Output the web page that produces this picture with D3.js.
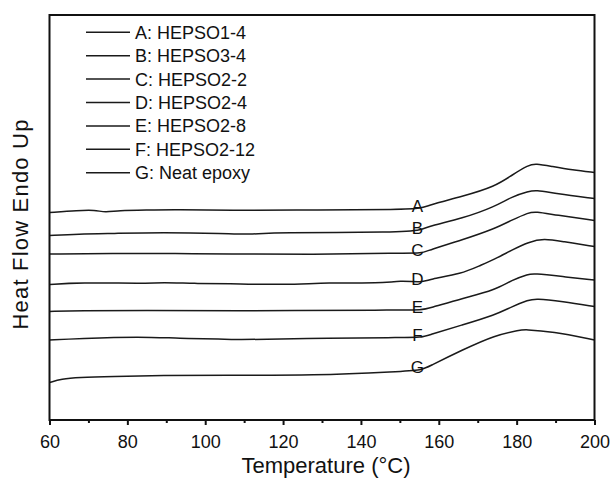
<!DOCTYPE html>
<html>
<head>
<meta charset="utf-8">
<script src="https://cdn.jsdelivr.net/npm/d3@7"></script>
<style>
  body { margin: 0; background: #fff; }
  text { font-family: "Liberation Sans", Arial, sans-serif; fill: #111; }
</style>
</head>
<body>
<script>
//Width and height
var w = 612;
var h = 478;
var margin = {top: 15, right: 17.5, bottom: 58, left: 49.5};

//DSC traces (temperature in C, heat flow in arbitrary units, curves offset)
var keys = ["A", "B", "C", "D", "E", "F", "G"];
var names = ["HEPSO1-4", "HEPSO3-4", "HEPSO2-2", "HEPSO2-4", "HEPSO2-8", "HEPSO2-12", "Neat epoxy"];

var curveA = [[60,4.15],[67.4,4.19],[71.7,4.20],[74.3,4.15],[77.7,4.19],[84.6,4.20],[93.1,4.21],[105.1,4.19],
              [129.6,4.20],[150.1,4.21],[155.7,4.23],[157.4,4.30],[166,4.47],[174.5,4.67],[178.8,4.90],
              [183.1,5.10],[184.8,5.13],[189.1,5.07],[194.3,5.00],[200,4.95]];
var curveB = [[60,3.69],[67.4,3.72],[76,3.73],[88.8,3.75],[105.1,3.73],[111.6,3.71],[117.5,3.75],[150.1,3.75],
              [155.7,3.80],[157.4,3.88],[166,4.03],[174.5,4.27],[178.8,4.47],[183.1,4.57],[184.8,4.60],
              [190,4.53],[200,4.43]];
var curveC = [[60,3.32],[76,3.33],[93.1,3.33],[105.1,3.32],[127.8,3.31],[150.1,3.34],[155.7,3.33],[157.4,3.40],
              [166,3.60],[174.5,3.83],[178.8,4.00],[183.1,4.15],[184.8,4.17],[190,4.10],[200,3.99]];
var curveD = [[60,2.71],[67.4,2.75],[84.6,2.73],[88.8,2.75],[97.4,2.73],[105.1,2.73],[121,2.70],[131.3,2.75],
              [145,2.73],[150.1,2.79],[155.7,2.75],[157.4,2.81],[166,2.93],[170.3,3.08],[174.5,3.22],
              [178.8,3.40],[183.1,3.56],[187,3.63],[191.7,3.57],[200,3.47]];
var curveE = [[60,2.17],[67.4,2.19],[84.6,2.19],[105.1,2.18],[150.1,2.20],[155.7,2.20],[157.4,2.23],[166,2.43],
              [174.5,2.60],[178.8,2.80],[183.1,2.92],[184.3,2.93],[191.7,2.87],[200,2.80]];
var curveF = [[60,1.60],[67.4,1.63],[83.7,1.67],[93.1,1.63],[105.1,1.62],[106.4,1.60],[125.2,1.63],[150.1,1.65],
              [155.7,1.65],[157.4,1.70],[166,1.90],[174.5,2.10],[178.8,2.27],[183.1,2.40],[184.8,2.43],
              [191.7,2.37],[200,2.27]];
var curveG = [[60,0.75],[63.1,0.82],[67.4,0.85],[76,0.87],[88.8,0.89],[105.1,0.90],[127.8,0.89],[150.1,0.97],
              [155.7,1.00],[157.4,1.07],[166,1.40],[174.5,1.70],[181,1.80],[182,1.81],[189.1,1.77],[200,1.60]];
var curves = [curveA, curveB, curveC, curveD, curveE, curveF, curveG];

var xTicks = [60, 80, 100, 120, 140, 160, 180, 200];
var xMinor = [70, 90, 110, 130, 150, 170, 190];
var labelTemp = 154.5;

//Scales
var x = d3.scaleLinear().domain([60, 200]).range([margin.left, w - margin.right]);
var y = d3.scaleLinear().domain([0, 8.1]).range([h - margin.bottom, margin.top]);

//Create SVG element
var svg = d3.select("body").append("svg")
            .attr("width", w)
            .attr("height", h);

var line = d3.line()
             .x(function(d) { return x(d[0]); })
             .y(function(d) { return y(d[1]); })
             .curve(d3.curveBasis);

svg.selectAll("path.trace")
   .data(curves)
   .enter()
   .append("path")
   .attr("class", "trace")
   .attr("d", line)
   .attr("fill", "none")
   .attr("stroke", "#1a1a1a")
   .attr("stroke-width", 1.5);

//Letters sitting on each trace
function valueAt(c, t) {
    for (var i = 1; i < c.length; i++) {
        if (c[i][0] >= t) {
            var k = (t - c[i-1][0]) / (c[i][0] - c[i-1][0]);
            return c[i-1][1] + k * (c[i][1] - c[i-1][1]);
        }
    }
    return c[c.length-1][1];
}

svg.selectAll("text.tag")
   .data(keys)
   .enter()
   .append("text")
   .attr("class", "tag")
   .attr("x", x(labelTemp))
   .attr("y", function(d, i) { return y(valueAt(curves[i], labelTemp)) + 3; })
   .attr("text-anchor", "middle")
   .attr("font-size", 17)
   .text(function(d) { return d; });

//Axes
var xAxis = d3.axisBottom(x).tickValues(xTicks).tickSize(5).tickPadding(10);
var gx = svg.append("g")
            .attr("transform", "translate(0," + y(0) + ")")
            .call(xAxis);
gx.select(".domain").remove();
gx.selectAll("line").attr("stroke", "#111").attr("stroke-width", 2);
gx.selectAll("text").attr("font-size", 18).attr("fill", "#111");

var gm = svg.append("g")
            .attr("transform", "translate(0," + y(0) + ")")
            .call(d3.axisBottom(x).tickValues(xMinor).tickSize(3).tickFormat(""));
gm.select(".domain").remove();
gm.selectAll("line").attr("stroke", "#111").attr("stroke-width", 2);

//Frame
svg.append("rect")
   .attr("x", x(60))
   .attr("y", y(8.1))
   .attr("width", x(200) - x(60))
   .attr("height", y(0) - y(8.1))
   .attr("fill", "none")
   .attr("stroke", "#111")
   .attr("stroke-width", 2);

//Axis titles
svg.append("text")
   .attr("x", 326)
   .attr("y", 473)
   .attr("text-anchor", "middle")
   .attr("font-size", 22)
   .text("Temperature (\u00B0C)");

svg.append("text")
   .attr("transform", "translate(28,224) rotate(-90)")
   .attr("text-anchor", "middle")
   .attr("font-size", 22)
   .attr("letter-spacing", 1.2)
   .text("Heat Flow Endo Up");

//Legend
var legend = svg.append("g")
                .attr("transform", "translate(86,32.3)");

var rows = legend.selectAll("g")
                 .data(keys)
                 .enter()
                 .append("g")
                 .attr("transform", function(d, i) { return "translate(0," + (i * 23.4) + ")"; });

rows.append("line")
    .attr("x1", 0)
    .attr("x2", 44)
    .attr("stroke", "#1a1a1a")
    .attr("stroke-width", 1.5);

rows.append("text")
    .attr("x", 49)
    .attr("y", 6.5)
    .attr("font-size", 18)
    .text(function(d, i) { return d + ": " + names[i]; });
</script>
</body>
</html>
